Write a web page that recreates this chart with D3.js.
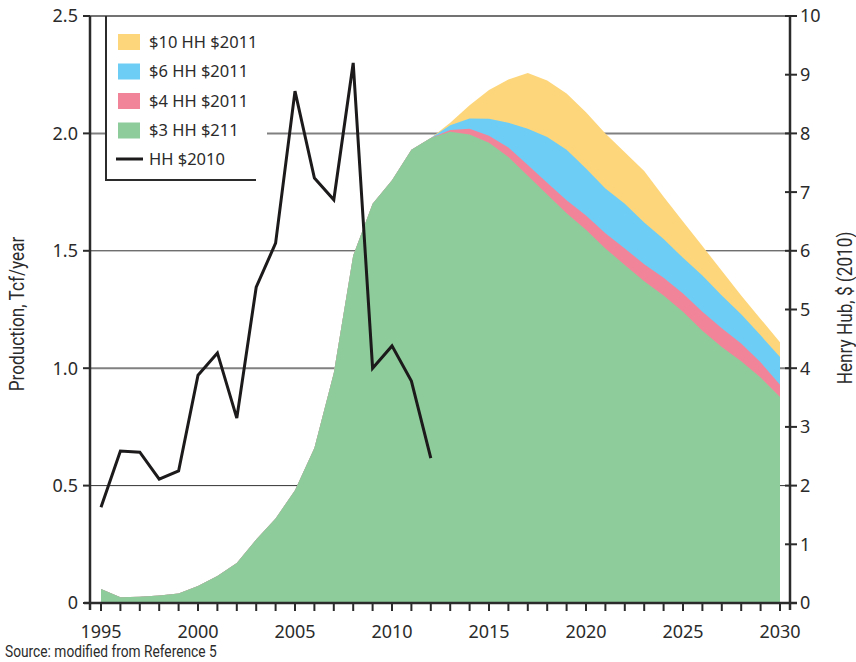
<!DOCTYPE html>
<html><head><meta charset="utf-8">
<script src="https://cdn.jsdelivr.net/npm/d3@7/dist/d3.min.js"></script>
<style>
body{margin:0;background:#fff;}
svg{display:block;}
.tick-label{font-family:"Noto Sans","Open Sans",sans-serif;font-size:18px;fill:#2b2b2b;}
.cond{font-family:Roboto,"Liberation Sans",sans-serif;}
</style></head>
<body>
<svg id="chart" width="856" height="662"></svg>
<script>
// ---- data ----
const years = d3.range(1995, 2031);
// $3 HH scenario (base, includes historical production), Tcf/year
const prod3 = [0.06,0.025,0.027,0.032,0.04,0.072,0.115,0.17,0.27,0.36,0.48,0.66,0.98,1.48,1.70,1.80,1.93,1.98,
  2.007,1.995,1.96,1.90,1.82,1.74,1.66,1.59,1.51,1.44,1.37,1.31,1.24,1.16,1.09,1.03,0.96,0.877];
const scenYears = d3.range(2012, 2031);
const prod4 = [1.98,2.015,2.02,1.99,1.94,1.865,1.79,1.715,1.65,1.575,1.51,1.443,1.385,1.318,1.24,1.17,1.105,1.025,0.93];
const prod6 = [1.98,2.035,2.063,2.062,2.045,2.02,1.985,1.93,1.85,1.765,1.70,1.62,1.55,1.47,1.395,1.31,1.23,1.14,1.048];
const prod10 = [1.98,2.045,2.12,2.185,2.23,2.257,2.225,2.17,2.09,2.0,1.92,1.84,1.73,1.625,1.52,1.415,1.31,1.21,1.11];
const hhYears = d3.range(1995, 2013);
const hh2010 = [1.63,2.59,2.57,2.11,2.25,3.88,4.26,3.15,5.38,6.13,8.72,7.24,6.87,9.2,4.0,4.38,3.78,2.47];
const leftTicks = [0,0.5,1.0,1.5,2.0,2.5];
const leftTickLabels = ["0","0.5","1.0","1.5","2.0","2.5"];
const rightTicks = d3.range(0, 11);
const xLabelYears = [1995,2000,2005,2010,2015,2020,2025,2030];
const legendItems = [
  {label:"$10 HH $2011", color:"#FDD67C"},
  {label:"$6 HH $2011", color:"#6DCDF5"},
  {label:"$4 HH $2011", color:"#F28499"},
  {label:"$3 HH $211", color:"#8ECC9C"}
];
const lineLabel = "HH $2010";

// ---- scales ----
const svg = d3.select("#chart");
const x = d3.scaleLinear().domain([1995, 2030]).range([101, 780]);
const yL = d3.scaleLinear().domain([0, 2.5]).range([603, 16]);
const yR = d3.scaleLinear().domain([0, 10]).range([603, 16]);
const axL = 90, axR = 790;

// gridlines
leftTicks.filter(t => t > 0).forEach(t => {
  const dark = (t === 1.5 || t === 0.5);
  svg.append("line").attr("x1", axL).attr("x2", axR)
    .attr("y1", yL(t)).attr("y2", yL(t))
    .attr("stroke", t === 2.5 ? "#444" : (dark ? "#333" : "#808080"))
    .attr("stroke-width", t === 2.5 ? 1.5 : (dark ? 1 : 2));
});

// areas (drawn back to front, each from 0 to scenario total)
const area = d3.area().x(d => x(d[0])).y0(yL(0)).y1(d => yL(d[1]));
const base = years.map((yr, i) => [yr, prod3[i]]);
function withHist(vals) {
  const hist = base.filter(d => d[0] < 2012);
  return hist.concat(scenYears.map((yr, i) => [yr, vals[i]]));
}
svg.append("path").datum(withHist(prod10)).attr("d", area).attr("fill", legendItems[0].color);
svg.append("path").datum(withHist(prod6)).attr("d", area).attr("fill", legendItems[1].color);
svg.append("path").datum(withHist(prod4)).attr("d", area).attr("fill", legendItems[2].color);
svg.append("path").datum(base).attr("d", area).attr("fill", legendItems[3].color);

// HH price line
const line = d3.line().x(d => x(d[0])).y(d => yR(d[1]));
svg.append("path").datum(hhYears.map((yr, i) => [yr, hh2010[i]]))
  .attr("d", line).attr("fill", "none").attr("stroke", "#1c1a1a")
  .attr("stroke-width", 3).attr("stroke-linejoin", "miter");

// axes lines
svg.append("line").attr("x1", axL).attr("x2", axL).attr("y1", 16).attr("y2", 610)
  .attr("stroke", "#2b2b2b").attr("stroke-width", 2.5);
svg.append("line").attr("x1", axR).attr("x2", axR).attr("y1", 16).attr("y2", 610)
  .attr("stroke", "#2b2b2b").attr("stroke-width", 2.5);
svg.append("line").attr("x1", 84).attr("x2", 797).attr("y1", 603).attr("y2", 603)
  .attr("stroke", "#2b2b2b").attr("stroke-width", 2.5);

// left ticks
leftTicks.forEach((t, i) => {
  svg.append("line").attr("x1", axL - 7).attr("x2", axL).attr("y1", yL(t)).attr("y2", yL(t))
    .attr("stroke", "#2b2b2b").attr("stroke-width", 2);
  svg.append("text").attr("class", "tick-label").attr("x", 78).attr("y", yL(t))
    .attr("dy", "0.36em").attr("text-anchor", "end").text(leftTickLabels[i]);
});
// right ticks
rightTicks.forEach(t => {
  svg.append("line").attr("x1", axR - 5).attr("x2", axR + 7).attr("y1", yR(t)).attr("y2", yR(t))
    .attr("stroke", "#2b2b2b").attr("stroke-width", 2);
  svg.append("text").attr("class", "tick-label").attr("x", 800).attr("y", yR(t))
    .attr("dy", "0.36em").attr("text-anchor", "start").text(t);
});
// bottom ticks
years.forEach(yr => {
  svg.append("line").attr("x1", x(yr)).attr("x2", x(yr)).attr("y1", 603).attr("y2", 611)
    .attr("stroke", "#2b2b2b").attr("stroke-width", 2);
});
xLabelYears.forEach(yr => {
  svg.append("text").attr("class", "tick-label").attr("x", x(yr)).attr("y", 638)
    .attr("text-anchor", "middle").text(yr);
});

// axis titles (condensed look)
svg.append("text").attr("class", "cond")
  .attr("transform", "translate(24,314) rotate(-90) scale(0.86,1)")
  .attr("text-anchor", "middle").attr("font-size", 20).attr("fill", "#2b2b2b")
  .text("Production, Tcf/year");
svg.append("text").attr("class", "cond")
  .attr("transform", "translate(852,308) rotate(-90) scale(0.86,1)")
  .attr("text-anchor", "middle").attr("font-size", 20).attr("fill", "#2b2b2b")
  .text("Henry Hub, $ (2010)");

// source
svg.append("text").attr("class", "cond")
  .attr("transform", "translate(5,657) scale(0.86,1)")
  .attr("font-size", 16).attr("fill", "#2b2b2b").text("Source: modified from Reference 5");

// legend
const lg = svg.append("g");
lg.append("rect").attr("x", 107).attr("y", 17).attr("width", 160).attr("height", 163).attr("fill", "#fff");
lg.append("line").attr("x1", 106).attr("x2", 106).attr("y1", 16).attr("y2", 181)
  .attr("stroke", "#2b2b2b").attr("stroke-width", 2);
lg.append("line").attr("x1", 105).attr("x2", 256).attr("y1", 180).attr("y2", 180)
  .attr("stroke", "#2b2b2b").attr("stroke-width", 2);
legendItems.forEach((d, i) => {
  const cy = 42 + i * 29.5;
  lg.append("rect").attr("x", 118).attr("y", cy - 8).attr("width", 22).attr("height", 16).attr("fill", d.color);
  lg.append("text").attr("class", "tick-label").attr("x", 149).attr("y", cy).attr("dy", "0.36em")
    .style("font-size", "16.5px").text(d.label);
});
const ly = 42 + 4 * 29.5 - 1;
lg.append("line").attr("x1", 116).attr("x2", 143).attr("y1", ly).attr("y2", ly)
  .attr("stroke", "#1c1a1a").attr("stroke-width", 3);
lg.append("text").attr("class", "tick-label").attr("x", 149).attr("y", ly).attr("dy", "0.36em")
  .style("font-size", "16.5px").text(lineLabel);
</script>
</body></html>
